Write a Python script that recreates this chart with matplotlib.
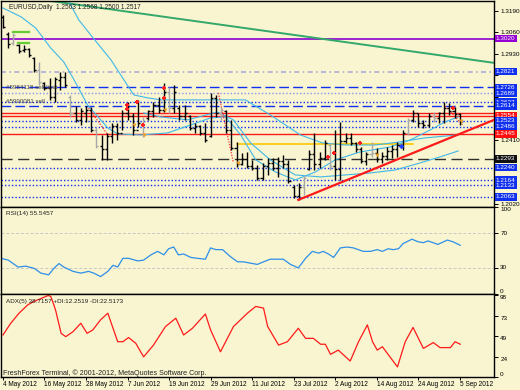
import matplotlib
matplotlib.use('Agg')
import matplotlib.pyplot as plt
import matplotlib.transforms as mtrans
import numpy as np

plt.rcParams['font.family'] = ['Liberation Sans', 'DejaVu Sans']

BG = '#F9F5D0'

# ---------------- data ----------------
date_labels = ['4 May 2012', '16 May 2012', '28 May 2012', '7 Jun 2012', '19 Jun 2012',
               '29 Jun 2012', '11 Jul 2012', '23 Jul 2012', '2 Aug 2012', '14 Aug 2012',
               '24 Aug 2012', '5 Sep 2012']
date_bars = [0, 8, 16, 24, 32, 40, 48, 56, 64, 72, 80, 88]

opens = [1.3150, 1.3050, 1.2995, 1.2985, 1.2950, 1.2955, 1.2905, 1.2830, 1.2750, 1.2720,
         1.2670, 1.2770, 1.2790, 1.2670, 1.2570, 1.2530, 1.2570, 1.2590, 1.2470, 1.2370,
         1.2350, 1.2430, 1.2490, 1.2450, 1.2570, 1.2550, 1.2470, 1.2510, 1.2540, 1.2580,
         1.2620, 1.2590, 1.2700, 1.2600, 1.2600, 1.2550, 1.2550, 1.2480, 1.2490, 1.2450,
         1.2430, 1.2660, 1.2570, 1.2580, 1.2470, 1.2360, 1.2260, 1.2290, 1.2250, 1.2240,
         1.2180, 1.2250, 1.2270, 1.2240, 1.2280, 1.2260, 1.2120, 1.2070, 1.2120, 1.2230,
         1.2320, 1.2260, 1.2300, 1.2380, 1.2250, 1.2230, 1.2400, 1.2420, 1.2390, 1.2350,
         1.2280, 1.2320, 1.2330, 1.2290, 1.2310, 1.2340, 1.2350, 1.2380, 1.2450, 1.2530,
         1.2570, 1.2510, 1.2500, 1.2550, 1.2540, 1.2570, 1.2600, 1.2580, 1.2563]
highs = [1.3164, 1.3061, 1.3055, 1.2990, 1.2985, 1.2964, 1.2910, 1.2880, 1.2759, 1.2783,
         1.2789, 1.2819, 1.2819, 1.2680, 1.2613, 1.2601, 1.2613, 1.2607, 1.2486, 1.2438,
         1.2450, 1.2511, 1.2511, 1.2589, 1.2638, 1.2571, 1.2650, 1.2547, 1.2589, 1.2638,
         1.2668, 1.2753, 1.2728, 1.2740, 1.2620, 1.2620, 1.2559, 1.2511, 1.2499, 1.2511,
         1.2692, 1.2680, 1.2607, 1.2589, 1.2529, 1.2396, 1.2329, 1.2335, 1.2287, 1.2257,
         1.2269, 1.2299, 1.2299, 1.2305, 1.2317, 1.2287, 1.2136, 1.2148, 1.2196, 1.2347,
         1.2450, 1.2335, 1.2408, 1.2390, 1.2468, 1.2517, 1.2450, 1.2450, 1.2396, 1.2365,
         1.2335, 1.2396, 1.2359, 1.2335, 1.2365, 1.2377, 1.2396, 1.2468, 1.2541, 1.2589,
         1.2571, 1.2529, 1.2571, 1.2577, 1.2577, 1.2638, 1.2632, 1.2607, 1.2568]
lows = [1.3085, 1.2964, 1.2983, 1.2934, 1.2940, 1.2910, 1.2819, 1.2740, 1.2710, 1.2650,
        1.2638, 1.2710, 1.2728, 1.2547, 1.2517, 1.2499, 1.2517, 1.2456, 1.2359, 1.2287,
        1.2287, 1.2390, 1.2408, 1.2468, 1.2529, 1.2438, 1.2486, 1.2426, 1.2529, 1.2547,
        1.2571, 1.2577, 1.2571, 1.2571, 1.2529, 1.2529, 1.2468, 1.2450, 1.2438, 1.2396,
        1.2426, 1.2547, 1.2529, 1.2450, 1.2347, 1.2245, 1.2257, 1.2239, 1.2226, 1.2166,
        1.2166, 1.2196, 1.2226, 1.2184, 1.2239, 1.2148, 1.2057, 1.2045, 1.2075, 1.2226,
        1.2226, 1.2239, 1.2287, 1.2226, 1.2166, 1.2166, 1.2390, 1.2377, 1.2335, 1.2269,
        1.2257, 1.2305, 1.2275, 1.2269, 1.2287, 1.2299, 1.2305, 1.2347, 1.2438, 1.2517,
        1.2486, 1.2480, 1.2486, 1.2517, 1.2511, 1.2511, 1.2559, 1.2541, 1.2500]
closes = [1.3090, 1.2990, 1.3040, 1.2945, 1.2960, 1.2920, 1.2830, 1.2760, 1.2720, 1.2670,
          1.2775, 1.2790, 1.2740, 1.2570, 1.2530, 1.2580, 1.2590, 1.2470, 1.2370, 1.2350,
          1.2430, 1.2490, 1.2450, 1.2570, 1.2550, 1.2470, 1.2510, 1.2440, 1.2580, 1.2620,
          1.2590, 1.2700, 1.2600, 1.2700, 1.2550, 1.2570, 1.2480, 1.2490, 1.2450, 1.2410,
          1.2660, 1.2570, 1.2590, 1.2470, 1.2360, 1.2260, 1.2290, 1.2250, 1.2240, 1.2180,
          1.2250, 1.2270, 1.2240, 1.2280, 1.2260, 1.2160, 1.2070, 1.2120, 1.2180, 1.2320,
          1.2260, 1.2300, 1.2390, 1.2250, 1.2230, 1.2400, 1.2420, 1.2390, 1.2350, 1.2280,
          1.2320, 1.2330, 1.2290, 1.2310, 1.2340, 1.2350, 1.2380, 1.2450, 1.2530, 1.2570,
          1.2510, 1.2500, 1.2550, 1.2540, 1.2570, 1.2600, 1.2580, 1.2563, 1.2517]
grey_bars = [2, 7, 13, 18, 27, 32, 42, 58, 63, 71, 78, 83]

# moving averages (bar index, price)
ma_fast_x = [0, 3.5, 6.3, 9.2, 11.7, 13.7, 16.3, 20.2, 22.1, 26.5, 31.7, 36.2, 40.0, 42.9,
             45.8, 48.7, 52.5, 56.3, 60.2, 64.0, 68.8, 74.6, 78.5, 82.3, 85.2, 87.7]
ma_fast_y = [1.3206, 1.3152, 1.3085, 1.2964, 1.2880, 1.2771, 1.2619, 1.2480, 1.2444, 1.2438,
             1.2450, 1.2499, 1.2541, 1.2547, 1.2438, 1.2287, 1.2214, 1.2166, 1.2214, 1.2287,
             1.2335, 1.2365, 1.2408, 1.2468, 1.2517, 1.2547]
ma_slow_x = [10.2, 12.5, 14.6, 16.9, 20.8, 23.3, 25.2, 27.9, 30.4, 38.1, 46.7, 51.5, 57.3,
             61.5, 66.0, 71.7, 76.5, 81.3, 87.7]
ma_slow_y = [1.3376, 1.3255, 1.3134, 1.3043, 1.2892, 1.2771, 1.2680, 1.2662, 1.2650, 1.2650,
             1.2650, 1.2559, 1.2438, 1.2390, 1.2377, 1.2377, 1.2396, 1.2420, 1.2438]
ma_mid_x = [27.1, 30.4, 35.6, 41.3, 44.4, 47.7, 51.5, 56.3, 61.2, 66.0, 70.8, 75.6, 80.4,
            84.2, 87.7]
ma_mid_y = [1.2571, 1.2547, 1.2529, 1.2577, 1.2529, 1.2390, 1.2287, 1.2196, 1.2184, 1.2196,
            1.2208, 1.2226, 1.2269, 1.2305, 1.2341]

# horizontal levels
level_prices = [1.3020, 1.2821, 1.2726, 1.2689, 1.2637, 1.2614, 1.2568, 1.2554, 1.2523,
                1.2486, 1.2445, 1.2293, 1.2240, 1.2164, 1.2133, 1.2063]
level_kinds = ['purple', 'dashdot', 'dash', 'lavdot', 'dot', 'dash', 'red', 'red', 'dot',
               'dot', 'red', 'black', 'dot', 'dot', 'dot', 'dot']
box_prices = [1.3020, 1.2821, 1.2726, 1.2689, 1.2637, 1.2614, 1.2554, 1.2523, 1.2486,
              1.2445, 1.2293, 1.2240, 1.2164, 1.2133, 1.2063]
box_colors = ['#9400D3', '#1030F0', '#1030F0', '#1030F0', '#1030F0', '#1030F0', '#FF1010',
              '#1030F0', '#1030F0', '#FF1010', '#101010', '#1030F0', '#1030F0', '#1030F0',
              '#1030F0']
price_ticks = [1.3190, 1.3060, 1.2930, 1.2800, 1.2670, 1.2540, 1.2410, 1.2280, 1.2150, 1.2020]
price_tick_labels = ['1.3190', '1.3060', '1.2930', '', '', '', '1.2410', '', '', '1.2020']

# trend lines (bar index, price)
green_line_x = [8.85, 94.6]
green_line_y = [1.3250, 1.2874]
red_line_x = [56.9, 94.6]
red_line_y = [1.2045, 1.2529]
yellow_x = [45, 79]
yellow_y = [1.2385, 1.2385]
green_seg1_x = [1.9, 5.0]
green_seg1_y = [1.3063, 1.3063]
green_seg2_x = [2.9, 5.0]
green_seg2_y = [1.2995, 1.2995]
trade_lines = [([16.5, 20.2], [1.2601, 1.2438]),
               ([41.5, 44.4], [1.2692, 1.2269]),
               ([85.2, 88.5], [1.2613, 1.2499])]
red_marks_x = [23.8, 23.8, 25.8, 26.9, 31.0, 31.0, 62.7, 63.7, 68.8, 86.7]
red_marks_y = [1.2620, 1.2596, 1.2638, 1.2499, 1.2722, 1.2662, 1.2305, 1.2329, 1.2390, 1.2601]
orange_marks_x = [25.2, 27.1, 31.2, 45.2, 72.1, 88.3]
orange_marks_y = [1.2499, 1.2438, 1.2589, 1.2269, 1.2317, 1.2523]
blue_marks_x = [76.7]
blue_marks_y = [1.2371]

# RSI(14)
rsi_x = [-0.4, 1.0, 2.9, 4.4, 6.0, 7.3, 8.8, 9.8, 10.8, 11.7, 13.5, 15.0, 16.5, 17.5, 18.8,
         20.2, 21.2, 22.1, 23.1, 24.2, 26.0, 27.1, 28.5, 29.8, 31.0, 31.9, 32.9, 33.8, 34.8,
         36.2, 37.5, 39.0, 40.0, 41.0, 42.3, 43.8, 45.2, 46.3, 49.0, 50.2, 51.5, 54.0, 55.4,
         56.9, 58.3, 59.6, 60.8, 61.7, 62.7, 63.7, 65.0, 66.3, 67.5, 69.4, 70.8, 72.1, 73.1,
         74.2, 75.2, 76.2, 77.1, 78.8, 80.0, 81.0, 81.9, 83.8, 85.6, 86.7, 88.1]
rsi_v = [41, 39, 31, 32, 29.5, 24, 22, 29.5, 35, 31, 26, 24, 26, 24, 20, 26, 33, 31, 41, 41,
         38, 39, 45, 49, 45, 52, 54, 45, 46, 42, 41, 40, 53, 51, 51, 43, 37, 37, 34, 37,
         40, 40, 34, 30, 41, 49, 47, 49, 46, 42, 53, 54, 53, 49, 49, 51, 49, 52, 51, 52,
         58, 63, 60, 59, 61, 57, 62, 60, 56]

# ADX(5)
adx_x = [0, 1.5, 3.1, 4.8, 6.0, 8.7, 9.2, 9.8, 10.2, 11.2, 12.1, 13.5, 15.0, 16.2, 17.3,
         18.8, 20.2, 22.1, 23.1, 24.2, 25.6, 27.1, 29.0, 31.3, 33.3, 34.8, 36.5, 39.0, 40.0,
         41.9, 44.4, 47.1, 48.7, 50.2, 51.0, 53.1, 54.8, 56.9, 58.3, 59.8, 61.2, 62.1, 63.1,
         64.6, 66.9, 68.5, 70.2, 71.2, 72.1, 73.1, 76.0, 77.5, 79.0, 81.0, 82.9, 84.2, 86.2,
         87.1, 88.1]
adx_v = [50, 64, 76, 86, 90, 97, 96, 86, 78, 52, 48, 54, 64, 52, 56, 68, 76, 42, 42, 47,
         40, 24, 38, 60, 70, 50, 58, 75, 56, 30, 60, 76, 84, 82, 60, 38, 42, 58, 46, 46,
         39, 39, 27, 32, 19, 42, 62, 42, 32, 36, 12, 42, 59, 34, 41, 35, 35, 42, 39]

# ---------------- figure ----------------
W, H = 520, 390
fig = plt.figure(figsize=(W / 100, H / 100), dpi=100, facecolor=BG)

def px_axes(x0, y0, x1, y1):
    return fig.add_axes([x0 / W, 1 - y1 / H, (x1 - x0) / W, (y1 - y0) / H])

ax = px_axes(1, 0.7, 494, 207)
ax2 = px_axes(1, 207, 494, 294)
ax3 = px_axes(1, 294, 494, 377)

XLIM = (-0.38, 94.6)
for a in (ax, ax2, ax3):
    a.set_facecolor(BG)
    a.set_xlim(*XLIM)
    for s in a.spines.values():
        s.set_color('black')
        s.set_linewidth(1.0)
    a.yaxis.tick_right()
    a.tick_params(axis='y', direction='out', length=3, width=0.7, pad=1.5,
                  labelsize=4.6, colors='black')
    a.tick_params(axis='x', bottom=False, labelbottom=False)

# main price panel
ax.set_ylim(1.2002, 1.3250)

style_map = {
    'purple': dict(color='#8A00D0', lw=1.2, ls='-'),
    'dashdot': dict(color='#ABABD8', lw=1.2, ls=(0, (3, 2, 1, 2))),
    'dash': dict(color='#1030F0', lw=1.0, ls=(0, (7, 3))),
    'lavdot': dict(color='#9090F0', lw=1.0, ls=(0, (1, 1.5))),
    'dot': dict(color='#1030F0', lw=1.0, ls=(0, (1, 1.5))),
    'red': dict(color='#FF1A1A', lw=1.0, ls='-'),
    'black': dict(color='#303030', lw=1.0, ls=(0, (8, 4))),
}
for p, k in zip(level_prices, level_kinds):
    ax.axhline(p, zorder=1, **style_map[k])

ax.plot(green_line_x, green_line_y, color='#33A86A', lw=1.4, zorder=2)
ax.plot(red_line_x, red_line_y, color='#FF1A1A', lw=1.6, zorder=4)
ax.plot(yellow_x, yellow_y, color='#FFC800', lw=1.2, zorder=1.5)
ax.plot(green_seg1_x, green_seg1_y, color='#66CC33', lw=1.6, zorder=2)
ax.plot(green_seg2_x, green_seg2_y, color='#66CC33', lw=1.6, zorder=2)

ma_col = '#40B8E8'
ax.plot(ma_fast_x, ma_fast_y, color=ma_col, lw=0.8, zorder=2)
ax.plot(ma_slow_x, ma_slow_y, color=ma_col, lw=0.8, zorder=2)
ax.plot(ma_mid_x, ma_mid_y, color=ma_col, lw=0.8, zorder=2)

for tx, ty in trade_lines:
    ax.plot(tx, ty, color='#FF3030', lw=0.9, ls=(0, (1, 1.2)), zorder=3)

xb = np.arange(len(closes))
cols = ['#A8A8A8' if i in grey_bars else 'black' for i in xb]
ax.vlines(xb, lows, highs, colors=cols, lw=1.0, zorder=3)
ax.hlines(opens, xb - 0.4, xb, colors=cols, lw=1.0, zorder=3)
ax.hlines(closes, xb, xb + 0.4, colors=cols, lw=1.0, zorder=3)

ax.scatter(red_marks_x, red_marks_y, marker='P', s=10, color='#FF2020', zorder=5, linewidths=0)
ax.scatter(orange_marks_x, orange_marks_y, marker='v', s=8, color='#F0A020', zorder=5, linewidths=0)
ax.scatter(blue_marks_x, blue_marks_y, marker='D', s=8, color='#2040FF', zorder=5, linewidths=0)

ax.set_yticks(price_ticks)
ax.set_yticklabels(price_tick_labels)

tr = mtrans.blended_transform_factory(ax.transAxes, ax.transData)
for p, c in zip(box_prices, box_colors):
    ax.text(1.004, p, '%.4f' % p, transform=tr, ha='left', va='center', fontsize=4.6,
            color='white', clip_on=False, zorder=10,
            bbox=dict(boxstyle='square,pad=0.2', fc=c, ec='none'))

ax.text(0.016, 0.966, 'EURUSD,Daily  1.2563 1.2568 1.2500 1.2517', transform=ax.transAxes,
        fontsize=4.7, color='#202020', va='center', ha='left')
ax.text(0.01, 1.2722, '#5984118 sell limit', transform=tr, fontsize=4.5, color='#404040',
        va='center', ha='left', zorder=6)
ax.text(0.01, 1.2639, '#5990081 sell', transform=tr, fontsize=4.5, color='#404040',
        va='center', ha='left', zorder=6)

# RSI panel
ax2.set_ylim(0, 100)
ax2.axhline(70, color='#C8C8C8', lw=0.7, ls=(0, (3, 2)))
ax2.axhline(30, color='#C8C8C8', lw=0.7, ls=(0, (3, 2)))
ax2.plot(rsi_x, rsi_v, color='#2E8FE8', lw=0.9)
ax2.set_yticks([100, 70, 30, 0])
ax2.set_yticklabels(['100', '70', '30', '0'])
vas = ['top', 'center', 'center', 'bottom']
for lbl, v in zip(ax2.get_yticklabels(), vas):
    lbl.set_va(v)
ax2.text(0.01, 0.93, 'RSI(14) 55.5457', transform=ax2.transAxes, fontsize=4.6,
         color='#202020', va='center', ha='left')

# ADX panel
ax3.set_ylim(0, 98.8)
ax3.plot(adx_x, adx_v, color='#FF1A1A', lw=0.9)
ax3.set_yticks([98, 73, 49, 24, 0])
ax3.set_yticklabels(['98', '73', '49', '24', '0'])
for lbl, v in zip(ax3.get_yticklabels(), ['top', 'top', 'top', 'top', 'bottom']):
    lbl.set_va(v)
ax3.text(0.01, 0.915, 'ADX(5) 38.7157 +DI:12.2519 -DI:22.5173', transform=ax3.transAxes,
         fontsize=4.6, color='#202020', va='center', ha='left')
ax3.text(0.005, 0.05, 'FreshForex Terminal, \u00a9 2001-2012, MetaQuotes Software Corp.',
         transform=ax3.transAxes, fontsize=5.1, color='#202020', va='center', ha='left')

ax3.tick_params(axis='x', bottom=True, labelbottom=True, length=2, width=0.7, pad=1,
                labelsize=4.7, colors='black')
ax3.set_xticks(date_bars)
ax3.set_xticklabels(date_labels, ha='left')

fig.savefig('out.png', dpi=100, facecolor=BG)
